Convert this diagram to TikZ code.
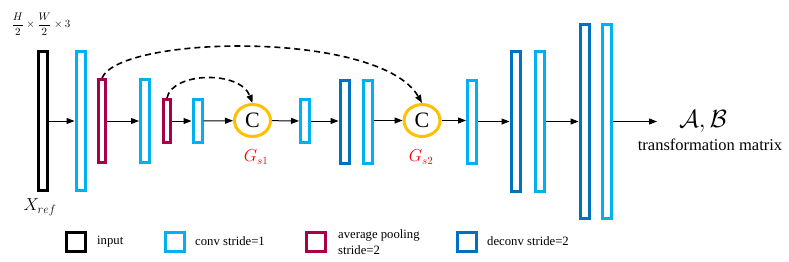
\documentclass[tikz,border=0pt]{standalone}
\usepackage{fontspec}
\setmainfont{Liberation Serif}
\usetikzlibrary{shapes.geometric,arrows.meta}
\definecolor{convblue}{RGB}{0,176,240}
\definecolor{poolred}{RGB}{168,0,72}
\definecolor{deconvblue}{RGB}{0,112,192}
\definecolor{catgold}{RGB}{255,192,0}
\begin{document}
\begin{tikzpicture}[x=1pt,y=-1pt,
  bar/.style={rectangle, draw, line width=3pt, inner sep=0pt, minimum width=9pt},
  inbar/.style={bar, draw=black},
  conv/.style={bar, draw=convblue},
  pool/.style={bar, draw=poolred, minimum width=7pt},
  deconv/.style={bar, draw=deconvblue},
  huge/.style={minimum height=194pt},
  tall/.style={minimum height=139pt},
  mid/.style={minimum height=83pt},
  short/.style={minimum height=43pt},
  cat/.style={ellipse, draw=catgold, line width=3pt, minimum width=36pt, minimum height=32pt, inner sep=0pt, font=\fontsize{22}{22}\selectfont},
  arr/.style={-{Triangle[length=8pt,width=6pt]}, line width=1pt},
  skip/.style={arr, line width=1.6pt, dash pattern=on 6pt off 4pt},
  key/.style={rectangle, draw, line width=3pt, minimum size=19pt, inner sep=0pt},
  keytext/.style={anchor=west, inner sep=0pt, align=left, font=\fontsize{12.7}{16}\selectfont}]
\useasboundingbox (0,0) rectangle (789,262);
\node[inbar, tall] (in) at (43,121) {};
\node[conv, tall] (c1) at (80.5,121) {};
\node[pool, mid] (p1) at (102,121) {};
\node[conv, mid] (c2) at (145,121) {};
\node[pool, short] (p2) at (167,121) {};
\node[conv, short] (c3) at (197.5,121) {};
\node[cat] (g1) at (252.5,120.5) {C};
\node[conv, short] (c4) at (305,121) {};
\node[deconv, mid] (d1) at (344.5,122) {};
\node[conv, mid] (c5) at (367.5,122) {};
\node[cat] (g2) at (422,120.5) {C};
\node[conv, mid] (c6) at (472,121.5) {};
\node[deconv, tall] (d2) at (515.5,121.5) {};
\node[conv, tall] (c7) at (539.5,121.5) {};
\node[deconv, huge] (d3) at (584.5,121.5) {};
\node[conv, huge] (c8) at (607,121.5) {};
\coordinate (out) at (657,121.5);
\node[inner sep=0pt] (size) at (41,24) {\fontsize{11}{11}\selectfont$\displaystyle\frac{H}{2}\times\frac{W}{2}\times3$};
\node (xref) at (40,207) {\fontsize{18}{18}\selectfont$X_{ref}$};
\node[text=red] (gs1) at (256,157) {\fontsize{16}{16}\selectfont$G_{s1}$};
\node[text=red] (gs2) at (421,157) {\fontsize{16}{16}\selectfont$G_{s2}$};
\node (ab) at (703,121) {\fontsize{28}{28}\selectfont$\mathcal{A},\mathcal{B}$};
\node (tm) at (710,145) {\fontsize{16.5}{16.5}\selectfont transformation matrix};
\draw[arr] (in) -- (c1);
\draw[arr] (p1) -- (c2);
\draw[arr] (p2) -- (c3);
\draw[arr] (c3) -- (g1);
\draw[arr] (g1) -- (c4);
\draw[arr] (c4) -- (d1.west |- c4);
\draw[arr] (c5.east |- g2) -- (g2);
\draw[arr] (g2) -- (c6.west |- g2);
\draw[arr] (c6) -- (d2.west |- c6);
\draw[arr] (c7) -- (d3);
\draw[arr] (c8) -- (out);
\draw[skip] (p1.north) .. controls (120,35) and (380,30) .. (g2.north);
\draw[skip] (p2.north) .. controls (172,72) and (240,70) .. (g1.north);
\node[key, draw=black] (k1) at (76,241.5) {};
\node[keytext] (t1) at (97,241.5) {input};
\node[key, draw=convblue] (k2) at (174.5,241.5) {};
\node[keytext] (t2) at (195,241.5) {conv stride=1};
\node[key, draw=poolred] (k3) at (315.5,241.5) {};
\node[keytext] (t3) at (338,242) {average pooling\\stride=2};
\node[key, draw=deconvblue] (k4) at (466.5,241.5) {};
\node[keytext] (t4) at (487,241.5) {deconv stride=2};
\end{tikzpicture}
\end{document}
